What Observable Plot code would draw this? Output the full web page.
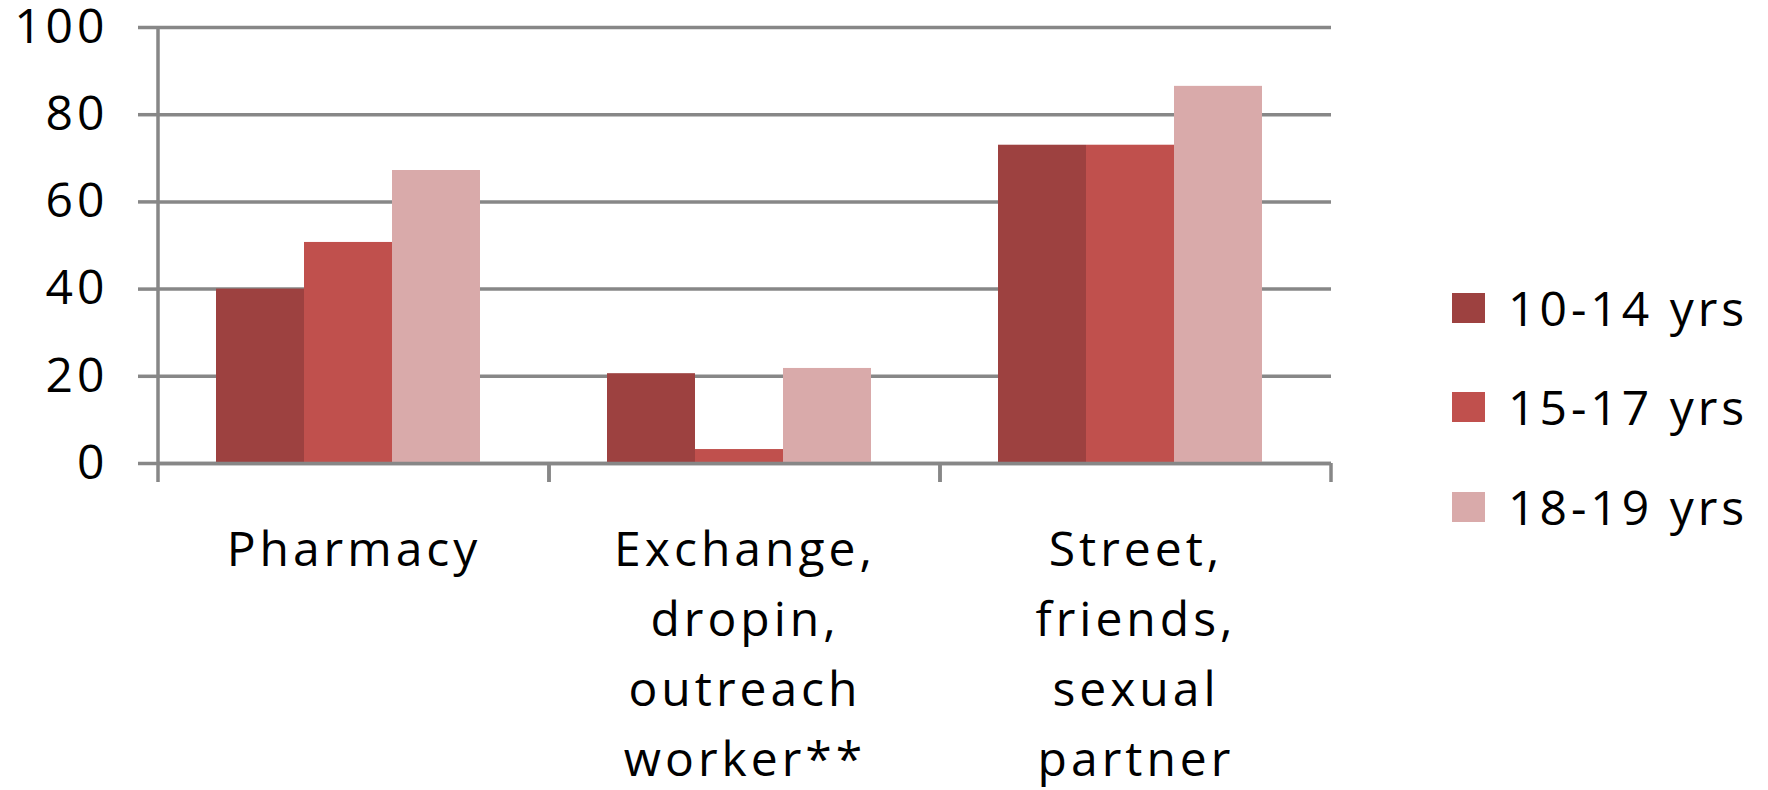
<!DOCTYPE html>
<html>
<head>
<meta charset="utf-8">
<script src="https://cdn.jsdelivr.net/npm/d3@7"></script>
<script src="https://cdn.jsdelivr.net/npm/@observablehq/plot@0.6"></script>
<style>
  body { margin: 0; background: #fff; }
  #wrap { position: relative; width: 1768px; height: 790px; overflow: hidden; font-family: "Open Sans", sans-serif; }
  #chart { position: absolute; left: 0; top: 0; }
  #legend { position: absolute; left: 1452px; top: 258px; }
  .item { display: flex; align-items: center; height: 99.5px; font-size: 48px; line-height: 1; letter-spacing: 4px; color: #000; }
  .sw { width: 33px; height: 30px; margin-right: 23px; flex: none; }
</style>
</head>
<body>
<div id="wrap"><div id="chart"></div><div id="legend"></div></div>
<script>
// ---- data ----
const categories = ["Pharmacy", "Exchange, dropin, outreach worker**", "Street, friends, sexual partner"];
const categoryLabels = ["Pharmacy", "Exchange,\ndropin,\noutreach\nworker**", "Street,\nfriends,\nsexual\npartner"];
const series = ["10-14 yrs", "15-17 yrs", "18-19 yrs"];
const values1014 = [40, 20.6, 73];
const values1517 = [50.7, 3.2, 73];
const values1819 = [67.2, 21.8, 86.5];
const seriesColors = ["#9D4140", "#C0504D", "#D9AAAA"];
const yTicks = [0, 20, 40, 60, 80, 100];

const seriesValues = [values1014, values1517, values1819];
const table = [];
categories.forEach((c, i) => series.forEach((s, j) => table.push({category: c, series: s, value: seriesValues[j][i]})));

const gridColor = "#878787";
const lineW = 3.5;

// boundary ticks under the category axis (and the value-axis line in the first panel)
let panel = 0;
function frameEdges(index, scales, values, dimensions) {
  const {width, height, marginTop, marginRight, marginBottom, marginLeft} = dimensions;
  const left = marginLeft, right = width - marginRight, bottom = height - marginBottom;
  const tickLen = 19;
  const g = d3.create("svg:g").attr("stroke", gridColor).attr("stroke-width", lineW);
  for (const xv of [left, right]) {
    g.append("line").attr("x1", xv).attr("x2", xv).attr("y1", bottom).attr("y2", bottom + tickLen);
  }
  if (panel++ === 0) {
    g.append("line").attr("x1", left).attr("x2", left).attr("y1", marginTop).attr("y2", bottom);
  }
  return g.node();
}

const svgWidth = 1400;
const plot = Plot.plot({
  width: svgWidth,
  height: 790,
  marginLeft: 158,
  marginRight: svgWidth - 1331,
  marginTop: 27,
  marginBottom: 790 - 463,
  style: {fontFamily: "'Open Sans', sans-serif", fontSize: "48px", color: "#000", background: "transparent", overflow: "visible", letterSpacing: "4px"},
  fx: {domain: categories, paddingInner: 0, paddingOuter: 0, label: null},
  x: {domain: series, paddingInner: 0, paddingOuter: 0.714, align: 0.46, axis: null, label: null},
  y: {domain: [0, 100], label: null},
  color: {domain: series, range: seriesColors},
  marks: [
    Plot.gridY(yTicks, {stroke: gridColor, strokeOpacity: 1, strokeWidth: lineW}),
    Plot.barY(table, {fx: "category", x: "series", y: "value", fill: "series"}),
    Plot.ruleY([0], {stroke: gridColor, strokeWidth: lineW}),
    Plot.axisY(yTicks, {tickSize: 20, tickPadding: 30, stroke: gridColor, strokeWidth: lineW, fill: "#000", fontSize: 48, label: null}),
    Plot.axisFx({anchor: "bottom", tickSize: 0, tickPadding: 53, tickFormat: d => categoryLabels[categories.indexOf(d)], lineHeight: 1.46, fill: "#000", fontSize: 48, label: null}),
    frameEdges
  ]
});
document.getElementById("chart").appendChild(plot);

// legend (HTML, to the right of the chart)
const colorScale = plot.scale("color");
const legend = d3.select("#legend");
series.forEach((s, i) => {
  const item = legend.append("div").attr("class", "item");
  item.append("div").attr("class", "sw").style("background", colorScale.range[i]);
  item.append("span").text(s);
});
</script>
</body>
</html>
